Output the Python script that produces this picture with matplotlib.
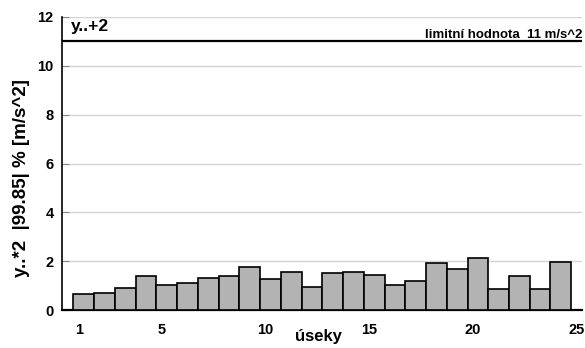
import matplotlib
matplotlib.use("Agg")
import matplotlib.pyplot as plt
import matplotlib.transforms as mtransforms
import numpy as np

plt.rcParams['font.family'] = ['Liberation Sans', 'DejaVu Sans']
plt.rcParams['font.weight'] = 'bold'

# hodnoty pro jednotlive useky
useky = np.arange(1, 25)
hodnoty = [0.65, 0.69, 0.89, 1.41, 1.04, 1.10, 1.31, 1.41, 1.78, 1.28, 1.56, 0.94,
           1.52, 1.57, 1.42, 1.03, 1.17, 1.92, 1.68, 2.12, 0.85, 1.41, 0.87, 1.97]
limit = 11
xticks = [1, 5, 10, 15, 20, 25]
yticks = [0, 2, 4, 6, 8, 10, 12]

fig = plt.figure(figsize=(5.85, 3.48), dpi=100)
ax = fig.add_axes([62/585, 1 - 310/348, 520/585, 293/348])

ax.bar(useky, hodnoty, width=1.0, color='#b3b3b3', edgecolor='black', linewidth=1.2, zorder=3)
ax.axhline(limit, color='black', linewidth=1.6, zorder=4)

ax.set_xlim(-0.05, 25.02)
ax.set_ylim(0, 12)
ax.set_xticks(xticks)
ax.set_yticks(yticks)
ax.grid(axis='y', color='#d4d4d4', linewidth=1.0, zorder=0)

ax.spines['top'].set_visible(False)
ax.spines['right'].set_visible(False)
ax.spines['left'].set_linewidth(1.2)
ax.spines['bottom'].set_linewidth(1.6)
ax.tick_params(axis='y', direction='in', length=5, color='#888888', labelsize=10.5, pad=6)
ax.tick_params(axis='x', length=0, labelsize=10.5, pad=9)

# popisky osy x jsou v originale lehce posunute doleva
shift = mtransforms.ScaledTranslation(-5/100, 0, fig.dpi_scale_trans)
for lab in ax.get_xticklabels():
    lab.set_transform(lab.get_transform() + shift)

ax.text(0.018, 0.968, 'y..+2', transform=ax.transAxes, fontsize=12.5, fontweight='bold',
        ha='left', va='center')
ax.text(1.0, 0.94, 'limitní hodnota  11 m/s^2', transform=ax.transAxes, fontsize=9.5,
        fontweight='bold', ha='right', va='center')

fig.text(22/585, 1 - 178/348, 'y..*2  |99.85| % [m/s^2]', rotation=90, fontsize=13.5,
         fontweight='bold', ha='center', va='center')
fig.text(318/585, 1 - 337/348, 'úseky', fontsize=12, fontweight='bold', ha='center', va='center')

fig.savefig('out.png', dpi=100)
